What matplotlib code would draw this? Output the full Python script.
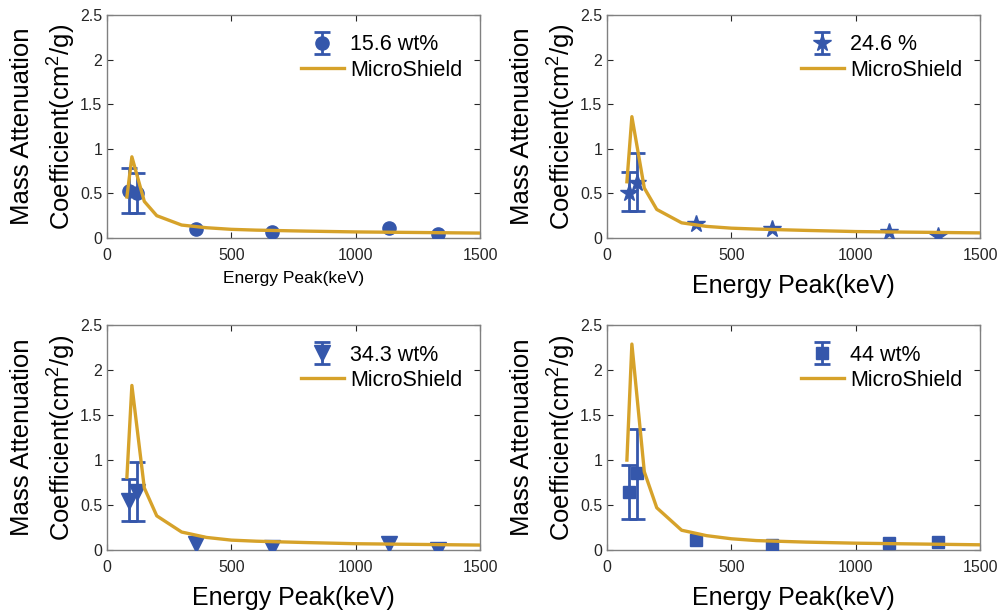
import numpy as np
import matplotlib
matplotlib.use("Agg")
import matplotlib.pyplot as plt

plt.rcParams['font.family'] = ['Liberation Sans', 'DejaVu Sans']
plt.rcParams['mathtext.fontset'] = 'custom'
plt.rcParams['mathtext.rm'] = 'Liberation Sans'

# energias de los picos medidos (keV)
energia_exp = [87, 122, 356, 662, 1133, 1332]

# energias de la curva MicroShield (keV)
energia_ms = [80, 100, 150, 200, 300, 400, 500, 600, 800, 1000, 1500]

etiquetas = ["15.6 wt%", "24.6 %", "34.3 wt%", "44 wt%"]
marcadores = ["o", "*", "v", "s"]
tam_marcador = [9.5, 13, 11, 8]

# coeficientes medidos
mu_1 = [0.53, 0.50, 0.10, 0.063, 0.11, 0.045]
mu_2 = [0.50, 0.62, 0.16, 0.10, 0.067, 0.02]
mu_3 = [0.55, 0.65, 0.065, 0.025, 0.065, 0.0]
mu_4 = [0.65, 0.86, 0.11, 0.056, 0.08, 0.09]

# limites de las barras de error (solo los dos primeros picos)
inf_1 = [0.28, 0.28]
sup_1 = [0.79, 0.73]
inf_2 = [0.30, 0.30]
sup_2 = [0.74, 0.95]
inf_3 = [0.32, 0.32]
sup_3 = [0.79, 0.98]
inf_4 = [0.35, 0.35]
sup_4 = [0.95, 1.35]

# curvas MicroShield
ms_1 = [0.46, 0.91, 0.41, 0.25, 0.145, 0.115, 0.097, 0.088, 0.077, 0.068, 0.055]
ms_2 = [0.63, 1.36, 0.56, 0.32, 0.17, 0.13, 0.11, 0.10, 0.085, 0.072, 0.057]
ms_3 = [0.81, 1.83, 0.69, 0.38, 0.20, 0.14, 0.11, 0.098, 0.083, 0.070, 0.055]
ms_4 = [1.00, 2.29, 0.87, 0.47, 0.22, 0.16, 0.125, 0.105, 0.088, 0.076, 0.058]

medidos = [mu_1, mu_2, mu_3, mu_4]
inferiores = [inf_1, inf_2, inf_3, inf_4]
superiores = [sup_1, sup_2, sup_3, sup_4]
curvas = [ms_1, ms_2, ms_3, ms_4]

azul = '#3557ab'
dorado = '#d6a22a'

fig = plt.figure(figsize=(10.02, 6.11), dpi=100)
posiciones = [
    [0.1068, 0.6105, 0.3723, 0.365],
    [0.6058, 0.6105, 0.3723, 0.365],
    [0.1068, 0.0998, 0.3723, 0.368],
    [0.6058, 0.0998, 0.3723, 0.368],
]

for i in range(4):
    ax = fig.add_axes(posiciones[i])
    y = np.array(medidos[i], dtype=float)
    err_inf = np.full(len(y), np.nan)
    err_sup = np.full(len(y), np.nan)
    err_inf[:2] = y[:2] - np.array(inferiores[i])
    err_sup[:2] = np.array(superiores[i]) - y[:2]

    h_exp = ax.errorbar(energia_exp, y, yerr=[err_inf, err_sup], fmt=marcadores[i],
                        color=azul, markersize=tam_marcador[i], elinewidth=2.0,
                        capsize=6, capthick=2.0, label=etiquetas[i], zorder=3)
    h_ms, = ax.plot(energia_ms, curvas[i], color=dorado, linewidth=2.4,
                    label='MicroShield', zorder=4)

    ax.set_xlim(0, 1500)
    ax.set_ylim(0, 2.5)
    ax.set_xticks([0, 500, 1000, 1500])
    ax.set_yticks([0, 0.5, 1, 1.5, 2, 2.5])
    ax.set_yticklabels(['0', '0.5', '1', '1.5', '2', '2.5'])
    ax.tick_params(direction='in', top=True, right=True, length=4,
                   labelsize=11.5, colors='#262626')
    ax.tick_params(axis='x', pad=7)
    for s in ax.spines.values():
        s.set_color('#808080')
        s.set_linewidth(1.0)

    ax.set_ylabel('Mass Attenuation\nCoefficient(cm$^2$/g)', fontsize=18.5,
                  linespacing=1.4, labelpad=2)
    if i == 0:
        ax.set_xlabel('Energy Peak(keV)', fontsize=12.5, labelpad=6)
    else:
        ax.set_xlabel('Energy Peak(keV)', fontsize=18, labelpad=8)

    ax.legend([h_exp, h_ms], [etiquetas[i], 'MicroShield'], loc='upper right',
              bbox_to_anchor=(1.005, 1.0), frameon=False,
              fontsize=15.5, labelspacing=0.2, handletextpad=0.3,
              handlelength=2.0)

fig.savefig('out.png', dpi=100)
